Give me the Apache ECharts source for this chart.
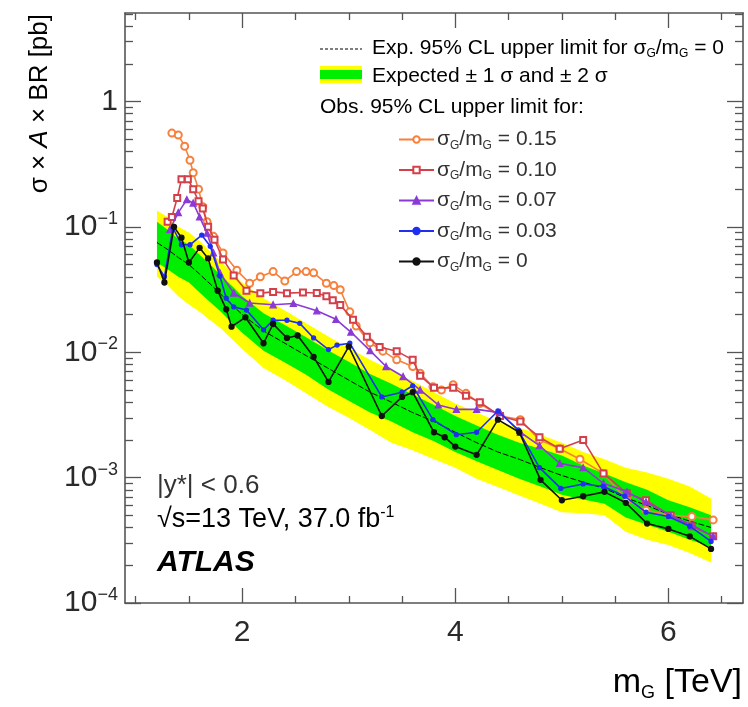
<!DOCTYPE html>
<html>
<head>
<meta charset="utf-8">
<script src="https://cdn.jsdelivr.net/npm/echarts@6/dist/echarts.min.js"></script>
<style>html,body{margin:0;padding:0;background:#fff}#c{width:748px;height:707px}</style>
</head>
<body>
<div id="c"></div>
<script>
// ---- data ----
const massGrid = [1.2,1.3,1.4,1.5,1.6,1.7,1.8,1.9,2.0,2.2,2.4,2.6,2.8,3.0,3.2,3.4,3.6,3.8,4.0,4.2,4.4,4.6,4.8,5.0,5.2,5.4,5.6,5.8,6.0,6.2,6.4];
const expMedian = [0.075,0.066,0.057,0.050,0.042,0.035,0.029,0.024,0.020,0.0148,0.0118,0.0094,0.0075,0.0060,0.0048,0.0040,0.0033,0.0028,0.0023,0.0019,0.0016,0.0014,0.0012,0.00104,0.00092,0.00082,0.00069,0.0006,0.00051,0.00045,0.0004];
const greenLo = [0.052,0.046,0.040,0.036,0.030,0.025,0.021,0.0172,0.0143,0.0103,0.0083,0.0066,0.0051,0.0041,0.0033,0.0028,0.0023,0.00195,0.0016,0.00135,0.00115,0.00098,0.00085,0.00073,0.00067,0.00062,0.00048,0.00042,0.00037,0.00032,0.00028];
const greenHi = [0.11,0.095,0.080,0.072,0.060,0.050,0.041,0.034,0.028,0.0205,0.0165,0.0132,0.0104,0.0084,0.0067,0.0056,0.0046,0.0038,0.0031,0.0026,0.0022,0.0019,0.0017,0.0015,0.00125,0.00108,0.00092,0.0008,0.00066,0.00058,0.0005];
const yellowLo = [0.040,0.034,0.028,0.024,0.021,0.018,0.0155,0.0128,0.0106,0.0075,0.0060,0.0047,0.0037,0.0030,0.0024,0.0019,0.00165,0.0014,0.0012,0.00098,0.00084,0.00072,0.00062,0.00053,0.00052,0.0005,0.00037,0.00032,0.00029,0.00025,0.00021];
const yellowHi = [0.135,0.12,0.100,0.090,0.077,0.064,0.053,0.044,0.036,0.027,0.0215,0.0170,0.0135,0.0108,0.0087,0.0072,0.0059,0.0048,0.0039,0.0033,0.0028,0.0025,0.0022,0.0019,0.0016,0.0014,0.0012,0.0011,0.00098,0.00085,0.00068];

const obs015X = [1.34,1.40,1.46,1.51,1.54,1.59,1.63,1.67,1.73,1.82,1.95,2.07,2.17,2.29,2.40,2.51,2.60,2.67,2.79,2.86,2.92,3.01,3.07,3.20,3.32,3.45,3.60,3.67,3.79,3.87,3.98,4.10,4.23,4.42,4.61,4.79,4.98,5.17,5.39,5.61,5.79,6.02,6.22,6.42];
const obs015Y = [0.56,0.54,0.44,0.34,0.27,0.20,0.145,0.11,0.084,0.062,0.045,0.0355,0.040,0.044,0.037,0.044,0.044,0.043,0.0355,0.034,0.0315,0.021,0.0162,0.0119,0.0102,0.0087,0.0077,0.0068,0.0053,0.0050,0.0055,0.0047,0.0039,0.0031,0.0029,0.0020,0.0017,0.0014,0.00108,0.00066,0.00055,0.0005,0.00049,0.00046];

const obs010X = [1.30,1.34,1.39,1.43,1.49,1.54,1.59,1.63,1.68,1.74,1.82,1.92,2.04,2.17,2.29,2.42,2.57,2.70,2.79,2.85,2.92,3.04,3.17,3.29,3.45,3.60,3.67,3.80,3.98,4.10,4.23,4.42,4.61,4.79,4.98,5.20,5.39,5.61,5.79,6.02,6.22,6.42];
const obs010Y = [0.11,0.12,0.17,0.24,0.24,0.20,0.16,0.14,0.10,0.079,0.055,0.041,0.031,0.0296,0.0303,0.0296,0.030,0.0297,0.028,0.026,0.0238,0.0182,0.0133,0.011,0.0102,0.0087,0.0065,0.0052,0.0052,0.0045,0.0040,0.0031,0.0028,0.0021,0.0017,0.0020,0.00108,0.00075,0.00066,0.0005,0.00041,0.00034];

const obs007X = [1.32,1.40,1.48,1.54,1.60,1.67,1.73,1.79,1.92,2.07,2.29,2.48,2.70,2.88,3.02,3.20,3.35,3.51,3.67,3.84,4.01,4.20,4.42,4.61,4.79,4.98,5.20,5.39,5.61,5.79,6.02,6.22,6.42];
const obs007Y = [0.095,0.13,0.165,0.155,0.12,0.089,0.062,0.043,0.0297,0.0247,0.0239,0.0245,0.0214,0.0183,0.0145,0.0103,0.0077,0.0064,0.0050,0.0038,0.0035,0.0035,0.0033,0.0023,0.0018,0.0013,0.0012,0.0009,0.00077,0.00064,0.0005,0.00042,0.00034];

const obs003X = [1.20,1.27,1.35,1.43,1.51,1.62,1.70,1.79,1.85,1.92,2.04,2.20,2.29,2.42,2.54,2.67,2.81,2.89,3.01,3.31,3.50,3.60,3.79,4.01,4.20,4.40,4.59,4.79,4.99,5.20,5.39,5.59,5.79,6.00,6.20,6.40];
const obs003Y = [0.050,0.040,0.098,0.072,0.072,0.086,0.070,0.0405,0.027,0.023,0.0217,0.0151,0.018,0.018,0.017,0.013,0.0105,0.0114,0.0118,0.0044,0.0048,0.0054,0.0029,0.0022,0.0023,0.0034,0.0024,0.0012,0.00082,0.00089,0.00085,0.00071,0.00053,0.00049,0.00041,0.00031];

const obs000X = [1.20,1.27,1.36,1.43,1.50,1.60,1.68,1.77,1.85,1.90,2.03,2.20,2.29,2.42,2.52,2.67,2.81,3.00,3.31,3.50,3.60,3.80,3.90,4.00,4.20,4.40,4.60,4.80,5.00,5.20,5.40,5.60,5.80,6.00,6.20,6.40];
const obs000Y = [0.052,0.036,0.10,0.082,0.052,0.068,0.056,0.031,0.022,0.016,0.019,0.0118,0.0168,0.0130,0.0136,0.0092,0.0058,0.0111,0.0031,0.0044,0.0048,0.0023,0.0021,0.00177,0.00152,0.0029,0.0023,0.00096,0.00066,0.00071,0.00077,0.00063,0.00043,0.00039,0.00034,0.00027];

const xMajorTicks = [2,4,6];
const xMinorTicks = [1,1.5,2.5,3,3.5,4.5,5,5.5,6.5];
const yMajorTicks = [0.0001,0.001,0.01,0.1,1];
const yMinorTicks = [];
[0.0001,0.001,0.01,0.1,1].forEach(d => { for (let k = 2; k <= 9; k++) { const v = +(d*k).toPrecision(3); if (v < 5.08) yMinorTicks.push(v); } });

// ---- chart ----
const FONT = '"Liberation Sans", Arial, Helvetica, sans-serif';
const AX = '#555';
const TXT = '#2a2a2a';
const zip = (xs, ys) => xs.map((x, i) => [x, ys[i]]);

const chart = echarts.init(document.getElementById('c'), null, {renderer: 'canvas'});

function xAxisDef(pos, ticks, len, line, labels) {
  return {
    type: 'value', position: pos, min: 0.9, max: 6.7, gridIndex: 0,
    axisLine: {show: line, onZero: false, lineStyle: {color: AX, width: 1.6}},
    axisTick: {show: true, inside: true, length: len, customValues: ticks, lineStyle: {color: AX, width: 1.3}},
    axisLabel: labels ? {show: true, customValues: ticks, fontSize: 30, color: TXT, fontFamily: FONT, margin: 15} : {show: false},
    splitLine: {show: false}, minorTick: {show: false}
  };
}
function yAxisDef(pos, ticks, len, line, labels) {
  return {
    type: 'log', logBase: 10, position: pos, min: 0.0001, max: 5.08, gridIndex: 0,
    axisLine: {show: line, onZero: false, lineStyle: {color: AX, width: 1.6}},
    axisTick: {show: true, inside: true, length: len, customValues: ticks, lineStyle: {color: AX, width: 1.3}},
    axisLabel: labels ? {
      show: true, customValues: ticks, margin: 7, color: TXT, fontFamily: FONT,
      formatter: v => {
        const e = Math.round(Math.log10(v));
        return e === 0 ? '{n|1}' : '{n|10}{s|\u2212' + (-e) + '}';
      },
      rich: {
        n: {fontSize: 30, fontFamily: FONT, color: TXT, lineHeight: 34},
        s: {fontSize: 18, fontFamily: FONT, color: TXT, lineHeight: 18, verticalAlign: 'top'}
      }
    } : {show: false},
    splitLine: {show: false}, minorTick: {show: false}
  };
}

const legRich = {
  t: {fontSize: 21, fontFamily: FONT, color: '#333', lineHeight: 24},
  s: {fontSize: 12, fontFamily: FONT, color: '#333', lineHeight: 12, verticalAlign: 'bottom'}
};
const sg = '{t|\u03c3}{s|G}{t|/m}{s|G}';
const legendNames = {
  o015: sg + '{t| = 0.15}',
  o010: sg + '{t| = 0.10}',
  o007: sg + '{t| = 0.07}',
  o003: sg + '{t| = 0.03}',
  o000: sg + '{t| = 0}'
};

function obsSeries(name, xs, ys, color, symbol, size, z) {
  return {
    type: 'line', name: name, xAxisIndex: 0, yAxisIndex: 0, data: zip(xs, ys),
    symbol: symbol, symbolSize: size, showAllSymbol: true, z: z, clip: true,
    lineStyle: {color: color, width: 1.6},
    itemStyle: {color: color, borderColor: color, borderWidth: 1.3},
    emphasis: {disabled: true}
  };
}

const option = {
  animation: false,
  backgroundColor: '#fff',
  grid: {left: 125, right: 5, top: 13, bottom: 104, containLabel: false},
  xAxis: [
    xAxisDef('bottom', xMajorTicks, 15, true, true),
    xAxisDef('bottom', xMinorTicks, 7, false, false),
    xAxisDef('top', xMajorTicks, 15, true, false),
    xAxisDef('top', xMinorTicks, 7, false, false)
  ],
  yAxis: [
    yAxisDef('left', yMajorTicks, 16, true, true),
    yAxisDef('left', yMinorTicks, 8, false, false),
    yAxisDef('right', yMajorTicks, 16, true, false),
    yAxisDef('right', yMinorTicks, 8, false, false)
  ],
  legend: {
    orient: 'vertical', left: 398, top: 129, padding: 0, itemWidth: 35, itemHeight: 8, itemGap: 8,
    selectedMode: false, textStyle: {rich: legRich, fontFamily: FONT, padding: [0, 0, 0, -2]},
    formatter: n => legendNames[n],
    data: ['o015', 'o010', 'o007', 'o003', 'o000']
  },
  graphic: [
    // legend header entries
    {type: 'line', shape: {x1: 320, y1: 49, x2: 362, y2: 49}, style: {stroke: '#000', lineWidth: 1.2, lineDash: [3, 2]}},
    {type: 'text', x: 372, y: 48, style: {
      text: '{t|Exp. 95% CL upper limit for }' + sg + '{t| = 0}', rich: legRich, textVerticalAlign: 'middle'}},
    {type: 'rect', shape: {x: 320, y: 66, width: 42, height: 17}, style: {fill: '#ffff00'}},
    {type: 'rect', shape: {x: 320, y: 70, width: 42, height: 9}, style: {fill: '#00ee00'}},
    {type: 'text', x: 372, y: 76, style: {
      text: '{t|Expected \u00b1 1 \u03c3 and \u00b1 2 \u03c3}', rich: legRich, textVerticalAlign: 'middle'}},
    {type: 'text', x: 320, y: 107, style: {text: '{t|Obs. 95% CL upper limit for:}', rich: legRich, textVerticalAlign: 'middle'}},
    // annotations
    {type: 'text', x: 157, y: 486, style: {text: '|y*| < 0.6', font: '26px ' + FONT, fill: '#333', textVerticalAlign: 'middle'}},
    {type: 'text', x: 157, y: 520, style: {
      text: '{a|\u221as=13 TeV, 37.0 fb}{b|-1}',
      rich: {a: {fontSize: 27, fontFamily: FONT, color: '#333', lineHeight: 31}, b: {fontSize: 16, fontFamily: FONT, color: '#333', lineHeight: 16, verticalAlign: 'top'}},
      textVerticalAlign: 'middle'}},
    {type: 'text', x: 157, y: 563, style: {text: 'ATLAS', font: 'italic bold 30px ' + FONT, fill: '#000', textVerticalAlign: 'middle'}},
    // axis titles
    {type: 'text', x: 40, y: 14, rotation: Math.PI / 2, style: {
      text: '{a|\u03c3 \u00d7 }{i|A}{a| \u00d7 BR [pb]}',
      rich: {a: {fontSize: 26, fontFamily: FONT, color: TXT}, i: {fontSize: 26, fontFamily: FONT, fontStyle: 'italic', color: TXT}},
      textAlign: 'right', textVerticalAlign: 'middle'}},
    {type: 'text', x: 742, y: 683, style: {
      text: '{a|m}{s|G}{a| [TeV]}',
      rich: {a: {fontSize: 34, fontFamily: FONT, color: TXT, lineHeight: 38}, s: {fontSize: 18, fontFamily: FONT, color: TXT, lineHeight: 18, verticalAlign: 'bottom'}},
      textAlign: 'right', textVerticalAlign: 'middle'}}
  ],
  series: [
    {
      type: 'custom', name: 'band', xAxisIndex: 0, yAxisIndex: 0, z: 1, silent: true, clip: true,
      data: [[massGrid[0], expMedian[0]]],
      renderItem: (params, api) => {
        const poly = (lo, hi) => {
          const up = massGrid.map((m, i) => api.coord([m, hi[i]]));
          const dn = massGrid.map((m, i) => api.coord([m, lo[i]])).reverse();
          return up.concat(dn);
        };
        return {type: 'group', children: [
          {type: 'polygon', shape: {points: poly(yellowLo, yellowHi)}, style: {fill: '#ffff00'}},
          {type: 'polygon', shape: {points: poly(greenLo, greenHi)}, style: {fill: '#00ee00'}}
        ]};
      }
    },
    {
      type: 'line', name: 'exp', xAxisIndex: 0, yAxisIndex: 0, z: 2, data: zip(massGrid, expMedian),
      symbol: 'none', lineStyle: {color: '#000', width: 1, type: [6, 2]}, itemStyle: {color: '#000'}, emphasis: {disabled: true}
    },
    obsSeries('o015', obs015X, obs015Y, '#f7803c', 'emptyCircle', 7, 3),
    obsSeries('o010', obs010X, obs010Y, '#d4404a', 'emptyRect', 6, 4),
    obsSeries('o007', obs007X, obs007Y, '#8a3ad6', 'triangle', 6, 5),
    obsSeries('o003', obs003X, obs003Y, '#1f2ff0', 'circle', 4, 6),
    obsSeries('o000', obs000X, obs000Y, '#111111', 'circle', 5, 7)
  ]
};
chart.setOption(option);
</script>
</body>
</html>
